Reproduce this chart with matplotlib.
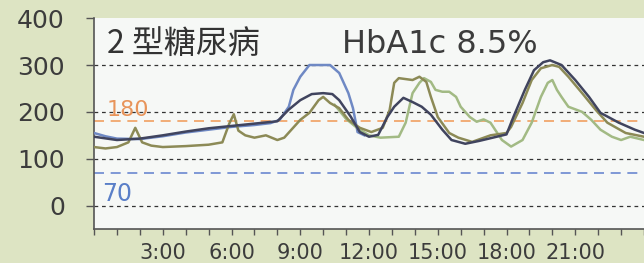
import matplotlib
matplotlib.use("Agg")
import matplotlib.pyplot as plt

# ---- data (hours, mg/dL) ----
dark_h = [0, 1, 2, 3, 4, 5, 6, 7, 8, 8.5, 9, 9.5, 10, 10.4, 10.7, 11.2, 11.6, 12.0, 12.4, 12.8,
          13.1, 13.5, 13.9, 14.3, 14.7, 15.2, 15.6, 16.2, 16.8, 17.4, 18.0, 18.3, 18.8, 19.2,
          19.6, 19.9, 20.4, 21.0, 21.6, 22.1, 22.9, 23.6, 24]
dark_v = [147, 140, 143, 150, 158, 165, 170, 175, 180, 205, 225, 238, 240, 238, 225, 190, 157,
          147, 151, 189, 211, 230, 221, 211, 194, 162, 140, 132, 138, 145, 152, 189, 247, 289,
          306, 310, 300, 268, 232, 198, 177, 162, 155]

blue_h = [0, 0.5, 1, 2, 3, 4, 5, 6, 7, 7.7, 8.1, 8.5, 8.7, 9.0, 9.4, 10.3, 10.7, 11.1, 11.3,
          11.4, 11.5, 11.8]
blue_v = [155, 148, 143, 142, 148, 156, 162, 168, 172, 176, 183, 211, 247, 275, 300, 300, 283,
          240, 208, 183, 157, 150]

olive_h = [0, 0.5, 1.0, 1.5, 1.8, 2.1, 2.5, 3, 4, 5, 5.6, 5.9, 6.1, 6.3, 6.6, 7, 7.5, 8, 8.3,
           9.0, 9.4, 9.8, 10.0, 10.3, 10.7, 11.1, 11.6, 12.1, 12.6, 12.9, 13.1, 13.3, 13.9,
           14.2, 14.5, 14.7, 15.0, 15.5, 15.9, 16.5, 17.3, 18.0, 18.2, 18.7, 19.1, 19.5, 20.0,
           20.3, 20.7, 21.3, 21.9, 22.4, 23.2, 24]
olive_v = [125, 122, 125, 135, 166, 135, 128, 125, 127, 130, 135, 175, 195, 160, 150, 145, 150,
           140, 145, 183, 198, 225, 232, 219, 208, 183, 166, 157, 166, 204, 262, 272, 268, 275,
           264, 232, 189, 155, 145, 136, 150, 155, 168, 219, 268, 293, 300, 296, 275, 240, 204,
           177, 155, 147]

green_h = [10.5, 11.0, 11.5, 12.0, 12.5, 13.3, 13.6, 13.9, 14.2, 14.4, 14.7, 14.9, 15.2, 15.5,
           15.8, 16.0, 16.4, 16.7, 17.0, 17.3, 17.8, 18.2, 18.7, 19.1, 19.5, 19.8, 20.0, 20.2,
           20.4, 20.7, 21.3, 21.7, 22.1, 22.6, 23.0, 23.4, 24]
green_v = [215, 185, 165, 150, 145, 147, 177, 240, 262, 272, 264, 247, 243, 243, 232, 211, 189,
           179, 184, 177, 140, 126, 140, 177, 232, 262, 268, 247, 232, 211, 200, 183, 162, 147,
           140, 147, 140]

yticks = [0, 100, 200, 300, 400]
xticks_major = [3, 6, 9, 12, 15, 18, 21]
xtick_labels = ["3:00", "6:00", "9:00", "12:00", "15:00", "18:00", "21:00"]
upper_target = 180
lower_target = 70

TXT = "#3c3c3c"
fig = plt.figure(figsize=(6.44, 2.63), dpi=100)
fig.patch.set_facecolor("#dde4c3")
ax = fig.add_axes([0.146, 0.129, 0.854, 0.802])
ax.set_facecolor("#f6f8f6")

for g in [0, 100, 200, 300]:
    ax.axhline(g, color="#333333", lw=0.9, ls=(0, (3, 3)), zorder=1)
ax.axhline(upper_target, color="#f0a060", lw=1.2, ls=(0, (6, 4)), zorder=1)
ax.axhline(lower_target, color="#6a88d0", lw=1.2, ls=(0, (6, 4)), zorder=1)

ax.plot(blue_h, blue_v, color="#6f89c4", lw=1.8, zorder=3)
ax.plot(green_h, green_v, color="#a2ba84", lw=1.8, zorder=3)
ax.plot(olive_h, olive_v, color="#8c8a56", lw=1.8, zorder=4)
ax.plot(dark_h, dark_v, color="#40445e", lw=1.8, zorder=5)

ax.set_xlim(0, 24)
ax.set_ylim(-50, 400)
ax.set_yticks(yticks)
ax.set_yticklabels([str(v) for v in yticks], fontsize=18, color=TXT, family="DejaVu Sans")
ax.set_xticks(range(0, 25), minor=True)
ax.set_xticks(xticks_major)
ax.set_xticklabels(xtick_labels, fontsize=15, color=TXT, family="DejaVu Sans")
ax.tick_params(axis="y", length=6, width=1.0, color="#555555", pad=15)
ax.tick_params(axis="x", which="both", length=4, width=1.0, color="#555555", pad=6)

for s in ["top", "right"]:
    ax.spines[s].set_visible(False)
for s in ["left", "bottom"]:
    ax.spines[s].set_color("#555555")
    ax.spines[s].set_linewidth(1.2)

ax.text(0.55, 204, "180", color="#e8945a", fontsize=16, va="center", ha="left",
        family="DejaVu Sans", zorder=2)
ax.text(0.35, 24, "70", color="#5a7fc8", fontsize=17, va="center", ha="left",
        family="DejaVu Sans", zorder=2)
ax.text(0.55, 344, "2 型糖尿病", color="#333333", fontsize=23, va="center", ha="left",
        family=["Noto Sans CJK SC", "DejaVu Sans"], zorder=6)
ax.text(10.8, 344, "HbA1c 8.5%", color=TXT, fontsize=23, va="center", ha="left",
        family="DejaVu Sans", zorder=6)

fig.savefig("out.png", dpi=100, facecolor=fig.get_facecolor())
